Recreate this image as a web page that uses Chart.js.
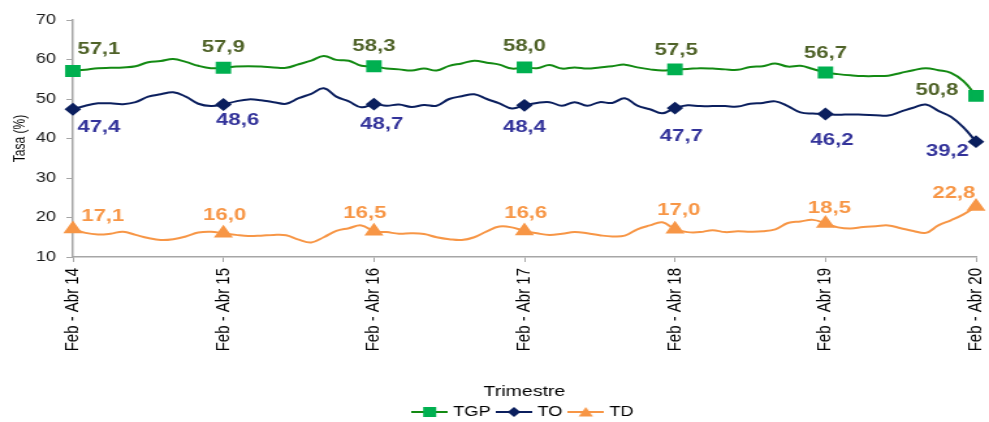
<!DOCTYPE html>
<html>
<head>
<meta charset="utf-8">
<script src="https://cdn.jsdelivr.net/npm/chart.js@4.4.1/dist/chart.umd.min.js"></script>
<style>
  html, body { margin: 0; padding: 0; background: #fff; overflow: hidden; }
</style>
</head>
<body>
<!-- the source picture is a stretched Excel chart, so the canvas is drawn narrow and widened by CSS -->
<canvas id="grafico" width="760" height="422" style="display:block;width:989px;height:422px"></canvas>
<script>
// =========================
// Data (rolling quarters, Feb-Abr 2014 .. Feb-Abr 2020)
// =========================

const trimestres = ["Feb - Abr", "Mar - May", "Abr - Jun", "May - Jul", "Jun - Ago", "Jul - Sep",
                    "Ago - Oct", "Sep - Nov", "Oct - Dic", "Nov - Ene", "Dic - Feb", "Ene - Mar"];
const anios = ["14", "15", "16", "17", "18", "19", "20"];

const tgp = [
  57.1, 57.4, 57.8, 57.9, 58.0, 58.3, 59.3, 59.6, 60.1, 59.4, 58.4, 57.8,
  57.9, 58.2, 58.3, 58.2, 58.0, 57.9, 58.8, 59.7, 60.9, 59.9, 59.7, 58.4,
  58.3, 57.7, 57.5, 57.2, 57.7, 57.2, 58.4, 59.0, 59.7, 59.2, 58.7, 57.7,
  58.0, 57.8, 58.6, 57.7, 58.0, 57.7, 58.0, 58.3, 58.7, 58.0, 57.5, 57.2,
  57.5, 57.6, 57.8, 57.7, 57.5, 57.4, 58.1, 58.3, 59.0, 58.2, 58.4, 57.6,
  56.7, 56.3, 56.0, 55.8, 55.8, 55.9, 56.6, 57.3, 57.8, 57.3, 56.6, 54.5,
  50.8
];

const to = [
  47.4, 48.3, 48.9, 48.9, 48.7, 49.2, 50.6, 51.2, 51.7, 50.6, 48.8, 48.2,
  48.6, 49.4, 49.9, 49.7, 49.2, 48.8, 50.2, 51.3, 52.7, 50.6, 49.4, 47.9,
  48.7, 48.3, 48.6, 48.0, 48.5, 48.3, 50.0, 50.7, 51.2, 50.0, 48.9, 47.6,
  48.4, 49.0, 49.2, 48.3, 49.2, 48.3, 49.2, 49.0, 50.2, 48.3, 47.4, 46.4,
  47.7, 48.4, 48.2, 48.2, 48.2, 48.1, 48.8, 49.0, 49.4, 48.2, 46.6, 46.3,
  46.2, 46.0, 46.1, 46.0, 45.9, 45.8, 46.8, 47.8, 48.6, 47.0, 45.5, 42.8,
  39.2
];

const td = [
  17.1, 16.1, 15.7, 15.9, 16.4, 15.6, 14.8, 14.3, 14.5, 15.2, 16.2, 16.4,
  16.0, 15.6, 15.3, 15.4, 15.6, 15.5, 14.4, 13.7, 15.0, 16.6, 17.3, 18.0,
  16.5, 16.3, 15.9, 16.0, 15.8, 15.0, 14.5, 14.3, 15.0, 16.5, 17.7, 17.5,
  16.6, 16.0, 15.6, 15.9, 16.3, 16.0, 15.5, 15.2, 15.4, 17.0, 18.0, 18.8,
  17.0, 16.3, 16.3, 16.8, 16.3, 16.5, 16.4, 16.5, 17.0, 18.6, 19.0, 19.4,
  18.5, 17.5, 17.2, 17.6, 17.8, 18.0, 17.3, 16.6, 16.1, 18.0, 19.3, 20.8,
  22.8
];

const yTicks = [10, 20, 30, 40, 50, 60, 70];

// category labels: one per month, only the Feb - Abr ones are shown
const labels = [];
anios.forEach((a, y) => {
  trimestres.forEach((t, m) => {
    if (y < anios.length - 1 || m === 0) labels.push(t + " " + a);
  });
});

// =========================
// Styles
// =========================

const PASO = 12;                       // one marker / label per year
const gris = "#a6a6a6";

const verdeLinea = "#138a13", verdeMarca = "#00b050", verdeTexto = "#4f6228";
const azulLinea = "#0b1f5e", azulTexto = "#33339a";
const naranja = "#f79646";

// label offsets (dx, dy) for the 7 labelled points of each series
const offTGP = [[20, -22], [0, -20], [0, -20], [0, -21], [1, -19], [0, -19], [-30, -6]];
const offTO  = [[20, 18], [11, 16], [6, 20], [0, 22], [5, 28], [5, 26], [-22, 10]];
const offTD  = [[23, -13], [1, -18], [-7, -18], [1, -18], [3, -19], [3, -15], [-17, -13]];

const conMarca = r => c => (c.dataIndex % PASO === 0 ? r : 0);

// legend samples: a short line with the marker in the middle
function muestra(color, relleno, forma) {
  const c = document.createElement("canvas");
  c.width = 28; c.height = 12;
  const g = c.getContext("2d");
  g.strokeStyle = color; g.lineWidth = 2;
  g.beginPath(); g.moveTo(0, 6); g.lineTo(28, 6); g.stroke();
  g.fillStyle = relleno;
  g.beginPath();
  if (forma === "rect") g.rect(9, 1, 10, 10);
  if (forma === "rectRot") { g.moveTo(14, 1); g.lineTo(19, 6); g.lineTo(14, 11); g.lineTo(9, 6); }
  if (forma === "triangle") { g.moveTo(14, 1); g.lineTo(19.5, 10.5); g.lineTo(8.5, 10.5); }
  g.closePath(); g.fill();
  return c;
}
const muestras = [
  muestra(verdeLinea, verdeMarca, "rect"),
  muestra(azulLinea, azulLinea, "rectRot"),
  muestra(naranja, naranja, "triangle")
];

// =========================
// Value labels plugin
// =========================

const etiquetas = {
  id: "etiquetas",
  afterDatasetsDraw(chart) {
    const ctx = chart.ctx;
    chart.data.datasets.forEach((ds, di) => {
      const meta = chart.getDatasetMeta(di);
      ctx.save();
      ctx.font = "bold 17px 'Liberation Sans', Arial, sans-serif";
      ctx.fillStyle = ds.colorEtiqueta;
      ctx.textAlign = "center";
      ctx.textBaseline = "middle";
      ds.data.forEach((v, i) => {
        if (i % PASO !== 0) return;
        const p = meta.data[i];
        const [dx, dy] = ds.offsets[i / PASO];
        ctx.fillText(v.toFixed(1).replace(".", ","), p.x + dx, p.y + dy);
      });
      ctx.restore();
    });
  }
};

// =========================
// Create Chart
// =========================

Chart.defaults.font.family = "'Liberation Sans', Arial, sans-serif";
Chart.defaults.color = "#1a1a1a";

const ctx = document.getElementById("grafico").getContext("2d");

new Chart(ctx, {
  type: "line",
  data: {
    labels: labels,
    datasets: [
      {
        label: "TGP",
        data: tgp,
        borderColor: verdeLinea,
        borderWidth: 2,
        tension: 0.4,
        pointStyle: "rect",
        pointRadius: conMarca(7),
        pointBackgroundColor: verdeMarca,
        pointBorderColor: verdeMarca,
        colorEtiqueta: verdeTexto,
        offsets: offTGP
      },
      {
        label: "TO",
        data: to,
        borderColor: azulLinea,
        borderWidth: 2,
        tension: 0.4,
        pointStyle: "rectRot",
        pointRadius: conMarca(5),
        pointBackgroundColor: azulLinea,
        pointBorderColor: azulLinea,
        colorEtiqueta: azulTexto,
        offsets: offTO
      },
      {
        label: "TD",
        data: td,
        borderColor: naranja,
        borderWidth: 2,
        tension: 0.4,
        pointStyle: "triangle",
        pointRadius: conMarca(6.5),
        pointBackgroundColor: naranja,
        pointBorderColor: naranja,
        colorEtiqueta: naranja,
        offsets: offTD
      }
    ]
  },
  options: {
    responsive: false,
    devicePixelRatio: 1,
    animation: false,
    layout: { padding: { top: 20, right: 10, left: 0, bottom: -7 } },
    plugins: {
      tooltip: { enabled: false },
      legend: {
        position: "bottom",
        fullSize: false,
        labels: {
          usePointStyle: true,
          pointStyleWidth: 22,
          padding: 7,
          color: "#000",
          font: { size: 14 },
          generateLabels: chart =>
            Chart.defaults.plugins.legend.labels.generateLabels(chart)
              .map((item, i) => ({ ...item, pointStyle: muestras[i] }))
        }
      }
    },
    scales: {
      x: {
        afterFit: s => { s.height = 141; s.paddingLeft = 0; s.paddingRight = 0; },
        border: { color: gris, width: 1.5 },
        grid: {
          drawOnChartArea: false,
          tickLength: 5,
          tickColor: c => (c.index % PASO === 0 ? gris : "rgba(0,0,0,0)")
        },
        ticks: {
          autoSkip: false,
          maxRotation: 90,
          minRotation: 90,
          padding: 6,
          color: "#000",
          font: { size: 15 },
          callback: function (val, i) {
            return i % PASO === 0 ? this.getLabelForValue(val) : "";
          }
        },
        title: {
          display: true,
          text: "Trimestre",
          color: "#000",
          font: { size: 15 },
          padding: { top: 0, bottom: -3 }
        }
      },
      y: {
        min: yTicks[0],
        max: yTicks[yTicks.length - 1],
        afterFit: s => { s.width = 56; },
        afterBuildTicks: s => { s.ticks = yTicks.map(v => ({ value: v })); },
        border: { color: gris, width: 1.5 },
        grid: { drawOnChartArea: false, tickLength: 5, tickColor: gris },
        ticks: { padding: 8, color: "#1a1a1a", font: { size: 14 } },
        title: {
          display: true,
          text: "Tasa (%)",
          color: "#000",
          font: { size: 12 },
          padding: { top: 8, bottom: 0 }
        }
      }
    }
  },
  plugins: [etiquetas]
});
</script>
</body>
</html>
